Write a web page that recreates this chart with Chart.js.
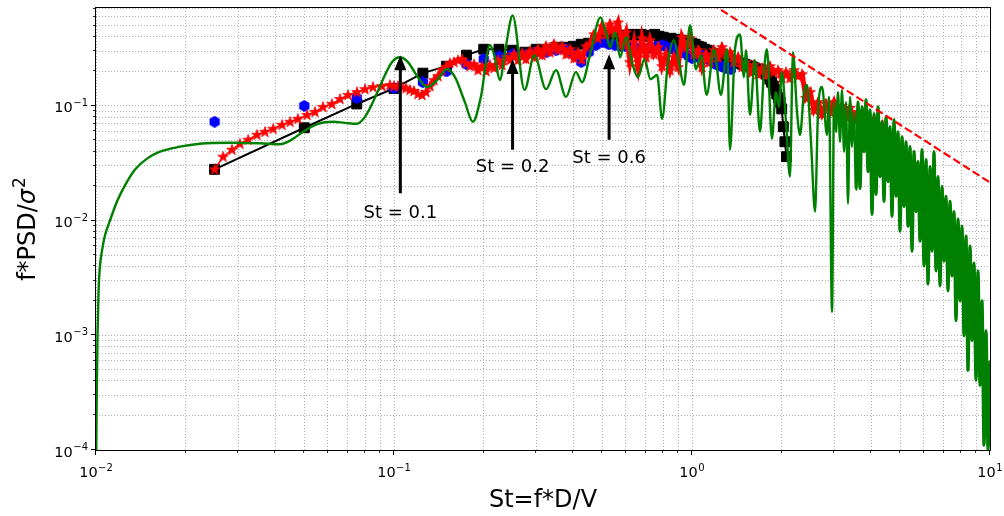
<!DOCTYPE html>
<html>
<head>
<meta charset="utf-8">
<script src="https://cdn.jsdelivr.net/npm/chart.js@4.4.0/dist/chart.umd.min.js"></script>
<style>
html,body{margin:0;padding:0;background:#fff;}
#wrap{width:1004px;height:516px;position:relative;}
</style>
</head>
<body>
<div id="wrap"><canvas id="c" width="1004" height="516"></canvas></div>
<script>
// ---------- axis ranges & ticks ----------
const xRange = [0.01, 10];
const yRange = [1e-4, 0.714];
const xMajorTicks = [0.01, 0.1, 1, 10];
const xTickLabels = [['10','\u22122'],['10','\u22121'],['10','0'],['10','1']];
const yMajorTicks = [1e-4, 1e-3, 1e-2, 1e-1];
const yTickLabels = [['10','\u22124'],['10','\u22123'],['10','\u22122'],['10','\u22121']];
const xTitle = 'St=f*D/V';

// ---------- black squares + line ----------
const blackX = [0.025,0.05,0.075,0.1,0.125,0.15,0.175,0.2,0.225,0.25,0.275,0.3,0.325,0.35,0.375,0.4,0.425,0.45,0.475,0.5,
0.525,0.55,0.575,0.6,0.625,0.65,0.675,0.7,0.725,0.75,0.775,0.8,0.825,0.85,0.875,0.9,0.925,0.95,0.975,1.0,
1.025,1.05,1.075,1.1,1.125,1.15,1.175,1.2,1.225,1.25,1.275,1.3,1.325,1.35,1.375,1.4,1.425,1.45,1.475,1.5,
1.525,1.55,1.575,1.6,1.625,1.65,1.675,1.7,1.725,1.75,1.775,1.8,1.825,1.85,1.875,1.9,1.925,1.95,1.975,2.0,
2.025,2.05,2.075];
const blackY = [0.028,0.0645,0.104,0.142,0.193,0.222,0.277,0.312,0.312,0.306,0.294,0.312,0.312,0.325,0.325,0.331,0.345,0.352,0.374,0.381,
0.389,0.405,0.413,0.413,0.421,0.413,0.421,0.405,0.413,0.421,0.405,0.397,0.381,0.389,0.374,0.381,0.374,0.359,0.359,0.352,
0.345,0.331,0.325,0.312,0.306,0.294,0.288,0.277,0.271,0.266,0.261,0.256,0.256,0.251,0.246,0.246,0.241,0.236,0.231,0.231,
0.227,0.222,0.222,0.218,0.214,0.209,0.209,0.205,0.201,0.197,0.189,0.182,0.171,0.161,0.149,0.138,0.127,0.1173,0.108,0.0942,
0.0658,0.0487,0.0361];

// ---------- blue hexagons ----------
const blueX = [0.025,0.05,0.075,0.1,0.125,0.15,0.175,0.2,0.225,0.25,0.275,0.3,0.325,0.35,0.375,0.4,0.425,0.45,0.475,0.5,
0.525,0.55,0.575,0.6,0.625,0.65,0.675,0.7,0.725,0.75,0.775,0.8,0.825,0.85,0.875,0.9,0.925,0.95,0.975,1.0,
1.025,1.05,1.075,1.1,1.125,1.15,1.175,1.2,1.225,1.25,1.275,1.3,1.325,1.35];
const blueY = [0.0727,0.1,0.117,0.143,0.161,0.2,0.231,0.256,0.271,0.282,0.277,0.294,0.294,0.306,0.312,0.282,0.241,0.294,0.338,0.359,
0.345,0.338,0.331,0.331,0.325,0.318,0.318,0.312,0.318,0.325,0.331,0.338,0.325,0.318,0.306,0.3,0.294,0.288,0.271,0.261,
0.266,0.271,0.277,0.266,0.256,0.251,0.241,0.231,0.227,0.222,0.218,0.214,0.214,0.209];

// ---------- red stars ----------
const redX = [0.025,0.0267,0.0286,0.0304,0.0324,0.0347,0.0369,0.0393,0.0421,0.0448,0.0476,0.0511,0.0543,0.0578,0.0619,0.0659,0.0701,0.0751,0.0799,0.085,0.0911,0.0969,
0.1,0.1031,0.1064,0.1097,0.1131,0.1167,0.1203,0.1241,0.128,
0.1321,0.1362,0.1405,0.1449,0.1494,0.1541,0.159,0.164,0.1691,
0.1744,0.1799,0.1856,0.1914,0.1974,0.2036,0.21,0.2166,0.2234,
0.2304,0.2377,0.2451,0.2528,0.2607,0.2689,0.2773,0.2861,0.2951,
0.3043,0.3138,0.3237,0.3339,0.3444,0.3551,0.3663,0.3778,0.3897,
0.4018,0.4145,0.4275,0.4409,0.4547,0.469,0.4838,0.4989,0.5146,
0.5307,0.5474,0.5646,0.5823,0.6006,0.6194,0.6389,0.659,0.6796,
0.701,0.723,0.7457,0.769,0.7932,0.8181,0.8438,0.8702,0.8976,
0.9257,0.9548,0.9848,1.0156,1.0475,1.0803,1.1142,1.149,1.185,
1.2223,1.2606,1.3003,1.341,1.3832,1.4266,1.4714,1.5176,1.5652,
1.6143,1.665,1.7173,1.7711,1.8267,1.8841,1.9432,2.0045,2.067,
2.132,2.199,2.268,2.339,2.413,2.489,2.567,2.648,2.731,
2.817,2.905,2.996,3.09,3.187,3.287,3.39,3.497,3.607,
3.72,3.837,3.957,4.082,4.21,4.342,4.478,4.618,4.763,
4.913,5.067,5.226,5.39,5.559,5.734,5.914,6.099,6.291,
6.488,6.692,6.902,7.118,7.342];
const redY = [0.028,0.0361,0.0415,0.0468,0.0507,0.056,0.0595,0.0632,0.0685,0.0727,0.0771,0.0835,0.0887,0.098,0.104,0.115,0.1246,0.132,0.14,0.146,0.149,0.152,
0.149,0.149,0.146,0.143,0.138,0.135,0.127,0.1246,0.132,
0.149,0.168,0.182,0.205,0.218,0.236,0.241,0.251,0.256,
0.236,0.222,0.231,0.205,0.222,0.201,0.227,0.214,0.251,
0.227,0.266,0.251,0.282,0.251,0.288,0.256,0.3,0.266,
0.312,0.277,0.331,0.294,0.345,0.306,0.331,0.282,0.312,
0.261,0.294,0.256,0.331,0.345,0.421,0.389,0.494,0.421,
0.514,0.438,0.535,0.345,0.438,0.241,0.359,0.222,0.389,
0.266,0.374,0.282,0.325,0.222,0.282,0.205,0.266,0.218,
0.397,0.325,0.389,0.282,0.306,0.218,0.282,0.241,0.306,
0.266,0.325,0.282,0.294,0.241,0.266,0.218,0.241,0.197,
0.227,0.189,0.214,0.186,0.222,0.197,0.205,0.175,0.197,
0.175,0.205,0.182,0.189,0.1173,0.132,0.0923,0.108,0.0852,
0.104,0.0887,0.108,0.0852,0.1,0.0803,0.0961,0.0756,0.0887,
0.0698,0.0803,0.0619,0.0756,0.0572,0.0671,0.0468,0.0538,0.0383,
0.0441,0.0314,0.0279,0.0198,0.0219,0.0153,0.0133,0.00987,0.00893,
0.00731,0.00662,0.00542,0.00564,0.0051];

// ---------- green spectrum ----------
const greenX = [0.01002,0.01006,0.01012,0.0102,0.01031,0.01047,0.0107,0.01114,0.01176,0.01251,0.01352,0.01483,0.01639,0.01913,0.0223,
0.0281,0.0355,0.0414,0.0454,0.0495,0.0556,0.0624,0.0684,0.075,0.0799,0.085,0.0919,0.0985,0.1047,
0.1114,0.1203,0.1291,0.1395,0.1505,0.1602,0.1729,0.1839,0.1957,0.2097,0.2179,0.2264,0.2371,0.2501,
0.2742,0.2958,0.3238,0.3496,0.3777,0.4077,0.4275,0.4569,0.4929,0.512,0.5317,0.5524,0.5738,0.6007,0.6288,0.6582,0.693,0.7255,0.7638,0.7937,0.8308,0.8698,0.9039,0.9393,0.9847,
1.031,1.072,1.12,1.185,1.251,1.312,1.341,1.394,1.449,1.494,1.517,1.565,1.626,1.691,1.743,1.784,1.854,1.912,1.957,2.003,2.067,2.132,2.182,2.251,2.304,2.376,2.432,2.508,2.587,2.648,2.731,2.838,2.882,
2.95,2.996,3.043,3.09,3.138,3.187,3.237,3.287,3.338,3.39,3.443,3.497,3.551,3.607,3.663,3.72,3.778,3.837,3.897,3.957,
4.019,4.082,4.145,4.21,4.275,4.342,4.409,4.478,4.548,4.618,4.69,4.763,4.838,4.913,4.989,5.067,5.146,5.226,5.307,5.39,
5.474,5.559,5.646,5.734,5.823,5.914,6.006,6.099,6.194,6.291,6.389,6.488,6.589,6.692,6.796,6.902,7.009,7.118,7.229,7.342,
7.456,7.572,7.69,7.81,7.932,8.055,8.181,8.308,8.437,8.569,8.702,8.838,8.975,9.115,9.257,9.401,9.548,9.697,9.848,10.0];
const greenY = [0.0001,0.00033,0.00101,0.00244,0.00401,0.00542,0.00731,0.01,0.0147,0.0203,0.0279,0.0347,0.0399,0.0441,0.0468,
0.0478,0.0473,0.0463,0.0508,0.0595,0.0698,0.0727,0.0712,0.0698,0.0803,0.108,0.171,0.241,0.266,
0.241,0.178,0.146,0.168,0.21,0.178,0.108,0.0727,0.12,0.34,0.266,0.168,0.325,0.615,
0.138,0.277,0.14,0.205,0.12,0.197,0.161,0.294,0.592,0.455,0.325,0.438,0.266,0.397,0.241,0.178,0.256,0.171,0.186,0.0771,0.241,0.374,0.241,0.152,0.505,
0.209,0.277,0.125,0.31,0.125,0.313,0.0415,0.313,0.42,0.178,0.306,0.0835,0.25,0.0595,0.197,0.313,0.0518,0.132,0.098,0.197,0.0727,0.0242,0.294,0.0887,0.056,0.132,0.152,0.0487,0.012,0.0887,0.146,0.056,0.12,
0.0016,0.108,0.0595,0.132,0.0487,0.138,0.0399,0.108,0.0141,0.12,0.0441,0.0887,0.0187,0.108,0.0191,0.098,0.0399,0.1127,0.0268,0.0923,
0.01135,0.0852,0.0169,0.098,0.0242,0.0727,0.0147,0.0803,0.0219,0.0658,0.0109,0.0756,0.0163,0.0595,0.00808,0.0538,0.0133,0.0487,0.00893,0.0441,
0.00542,0.0399,0.012,0.0327,0.00662,0.0415,0.00402,0.034,0.0028,0.0296,0.00542,0.0399,0.00364,0.0242,0.0027,0.0198,0.00444,0.0163,0.00244,0.0147,
0.00329,0.012,0.00134,0.0103,0.002,0.00893,0.00099,0.00731,0.000494,0.00599,0.0009,0.00427,0.000405,0.00364,0.000366,0.002,0.00011,0.0011,0.0001,0.000603];

// ---------- -5/3 reference line ----------
const refX = [1, 10];
const refY = [1, 0.0215];

// ---------- annotations (data coords) ----------
const noteLabels = ['St = 0.1', 'St = 0.2', 'St = 0.6'];
const noteX      = [0.105, 0.25, 0.527];
const noteTipY   = [0.277, 0.256, 0.282];
const noteTailY  = [0.0173, 0.0415, 0.0507];
const noteTextY  = [0.0116, 0.029, 0.0347];

// ---------- rendering ----------
const FONT = '"DejaVu Sans", "Liberation Sans", sans-serif';
Chart.defaults.font.family = FONT;

function pts(xs, ys){ const n = Math.min(xs.length, ys.length); const o=[]; for(let i=0;i<n;i++) o.push({x:xs[i], y:ys[i]}); return o; }

function makeStar(){
  const c = document.createElement('canvas'); c.width = 12; c.height = 12;
  const g = c.getContext('2d'); const cx=6, cy=6.3, R=5.6, r=2.2;
  g.beginPath();
  for(let i=0;i<10;i++){ const a = -Math.PI/2 + i*Math.PI/5; const rr = i%2===0?R:r; g.lineTo(cx+rr*Math.cos(a), cy+rr*Math.sin(a)); }
  g.closePath(); g.fillStyle='#ff0000'; g.fill(); g.strokeStyle='#ff0000'; g.lineWidth=0.8; g.stroke();
  return c;
}
function makeHex(){
  const c = document.createElement('canvas'); c.width = 12; c.height = 12;
  const g = c.getContext('2d'); const cx=6, cy=6, R=5.9;
  g.beginPath();
  for(let i=0;i<6;i++){ const a = -Math.PI/2 + i*Math.PI/3; g.lineTo(cx+R*Math.cos(a), cy+R*Math.sin(a)); }
  g.closePath(); g.fillStyle='#0000ff'; g.fill();
  return c;
}
const starImg = makeStar();
const hexImg = makeHex();

function logTicks(majors, min, max){
  const t = [];
  for (let i=0;i<majors.length;i++){
    const m = majors[i];
    for (let k=1;k<=9;k++){ const v = m*k; if (v>=min*0.999 && v<=max*1.001) t.push({value:v, major:k===1}); }
  }
  return t;
}

function drawPow(ctx, base, exp, x, baseY, align){
  ctx.font = '14.5px ' + FONT; const w1 = ctx.measureText(base).width;
  ctx.font = '10px ' + FONT; const w2 = ctx.measureText(exp).width;
  const total = w1 + w2 + 0.5;
  const left = align === 'center' ? x - total/2 : x - total;
  ctx.textAlign = 'left'; ctx.textBaseline = 'alphabetic';
  ctx.font = '14.5px ' + FONT; ctx.fillText(base, left, baseY);
  ctx.font = '10px ' + FONT; ctx.fillText(exp, left + w1 + 0.5, baseY - 6.5);
}

const overlay = {
  id: 'overlay',
  beforeDraw(chart){
    const ctx = chart.ctx; ctx.save(); ctx.fillStyle = '#fff'; ctx.fillRect(0,0,chart.width,chart.height); ctx.restore();
  },
  afterDatasetsDraw(chart){
    const ctx = chart.ctx, a = chart.chartArea, xs = chart.scales.x, ys = chart.scales.y;
    ctx.save();
    // arrows + annotation text
    ctx.fillStyle = '#000';
    for (let i=0;i<noteLabels.length;i++){
      const px = xs.getPixelForValue(noteX[i]);
      const tip = ys.getPixelForValue(noteTipY[i]);
      const tail = ys.getPixelForValue(noteTailY[i]);
      const hl = 15, hw = 6, sw = 1.5;
      ctx.beginPath();
      ctx.moveTo(px - sw, tail); ctx.lineTo(px - sw, tip + hl); ctx.lineTo(px - hw, tip + hl);
      ctx.lineTo(px, tip); ctx.lineTo(px + hw, tip + hl); ctx.lineTo(px + sw, tip + hl); ctx.lineTo(px + sw, tail);
      ctx.closePath(); ctx.fill();
      ctx.font = '18px ' + FONT; ctx.textAlign = 'center'; ctx.textBaseline = 'alphabetic';
      ctx.fillText(noteLabels[i], px, ys.getPixelForValue(noteTextY[i]) + 4.5);
    }
    // spines
    const L = Math.round(a.left), R = Math.round(a.right), T = Math.round(a.top), B = Math.round(a.bottom);
    ctx.strokeStyle = '#000'; ctx.lineWidth = 1;
    ctx.strokeRect(L - 0.5, T - 0.5, R - L + 1, B - T + 1);
    // tick marks
    xs.ticks.forEach(t => {
      const p = Math.round(xs.getPixelForValue(t.value)) - 0.5;
      ctx.lineWidth = t.major ? 1 : 0.8;
      ctx.beginPath(); ctx.moveTo(p, B + 0.5); ctx.lineTo(p, B + (t.major ? 5 : 3)); ctx.stroke();
    });
    ys.ticks.forEach(t => {
      const p = Math.round(ys.getPixelForValue(t.value)) - 0.5;
      ctx.lineWidth = t.major ? 1 : 0.8;
      ctx.beginPath(); ctx.moveTo(L - 0.5, p); ctx.lineTo(L - (t.major ? 5 : 3), p); ctx.stroke();
    });
    // tick labels
    ctx.fillStyle = '#000';
    xMajorTicks.forEach((v,i) => drawPow(ctx, xTickLabels[i][0], xTickLabels[i][1], xs.getPixelForValue(v), B + 27, 'center'));
    yMajorTicks.forEach((v,i) => drawPow(ctx, yTickLabels[i][0], yTickLabels[i][1], L - 8, ys.getPixelForValue(v) + 6.5, 'right'));
    // axis titles
    ctx.font = '24px ' + FONT; ctx.textAlign = 'center'; ctx.textBaseline = 'alphabetic';
    ctx.fillText(xTitle, (a.left + a.right)/2, 507);
    ctx.save();
    ctx.translate(35, (a.top + a.bottom)/2);
    ctx.rotate(-Math.PI/2);
    ctx.font = '24px ' + FONT; const w1 = ctx.measureText('f*PSD/').width;
    ctx.font = 'italic 24px ' + FONT; const w2 = ctx.measureText('\u03c3').width;
    ctx.font = '17px ' + FONT; const w3 = ctx.measureText('2').width;
    let sx = -(w1 + w2 + w3 + 1)/2;
    ctx.textAlign = 'left';
    ctx.font = '24px ' + FONT; ctx.fillText('f*PSD/', sx, 0); sx += w1;
    ctx.font = 'italic 24px ' + FONT; ctx.fillText('\u03c3', sx, 0); sx += w2 + 1;
    ctx.font = '17px ' + FONT; ctx.fillText('2', sx, -10);
    ctx.restore();
    ctx.restore();
  }
};

new Chart(document.getElementById('c').getContext('2d'), {
  type: 'line',
  data: { datasets: [
    { label: 'slope -5/3', data: pts(refX, refY), borderColor: '#ff0000', borderWidth: 2.2, borderDash: [8,3.5],
      pointRadius: 0, fill: false, order: 0, clip: 0 },
    { label: 'spectrum', data: pts(greenX, greenY), borderColor: '#008000', borderWidth: 2.4,
      pointRadius: 0, fill: false, order: 1, clip: 0, cubicInterpolationMode: 'monotone',
      segment: { borderWidth: c => (c.p0.parsed.x > 3.5 ? 3.2 : 2.4) } },
    { label: 'red', data: pts(redX, redY), borderColor: '#ff0000', borderWidth: 1.5, pointStyle: starImg,
      pointRadius: 5, fill: false, order: 2, clip: 0,
      segment: { borderWidth: c => (c.p0.parsed.x > 0.13 ? 5 : 1.5) } },
    { label: 'blue', data: pts(blueX, blueY), showLine: false, pointStyle: hexImg, pointRadius: 5,
      borderColor: '#0000ff', backgroundColor: '#0000ff', order: 3, clip: 0 },
    { label: 'black', data: pts(blackX, blackY), borderColor: '#000', borderWidth: 2, pointStyle: 'rect', pointRadius: 7,
      pointBackgroundColor: '#000', pointBorderColor: '#000', pointBorderWidth: 1, fill: false, order: 4, clip: 0 }
  ]},
  options: {
    responsive: false, animation: false, events: [],
    layout: { padding: { left: 0, right: 14, top: 6, bottom: 0 } },
    plugins: { legend: { display: false }, tooltip: { enabled: false } },
    scales: {
      x: { type: 'logarithmic', min: xRange[0], max: xRange[1], bounds: 'data',
        afterBuildTicks: s => { s.ticks = logTicks(xMajorTicks, xRange[0], xRange[1]); },
        afterFit: s => { s.height = 66; },
        ticks: { display: false },
        grid: { color: '#b0b0b0', lineWidth: 1, drawTicks: false },
        border: { display: false, dash: [1, 2] } },
      y: { type: 'logarithmic', min: yRange[0], max: yRange[1], bounds: 'data',
        afterBuildTicks: s => { s.ticks = logTicks(yMajorTicks, yRange[0], yRange[1]); },
        afterFit: s => { s.width = 96; },
        ticks: { display: false },
        grid: { color: '#b0b0b0', lineWidth: 1, drawTicks: false },
        border: { display: false, dash: [1, 2] } }
    }
  },
  plugins: [overlay]
});
</script>
</body>
</html>
